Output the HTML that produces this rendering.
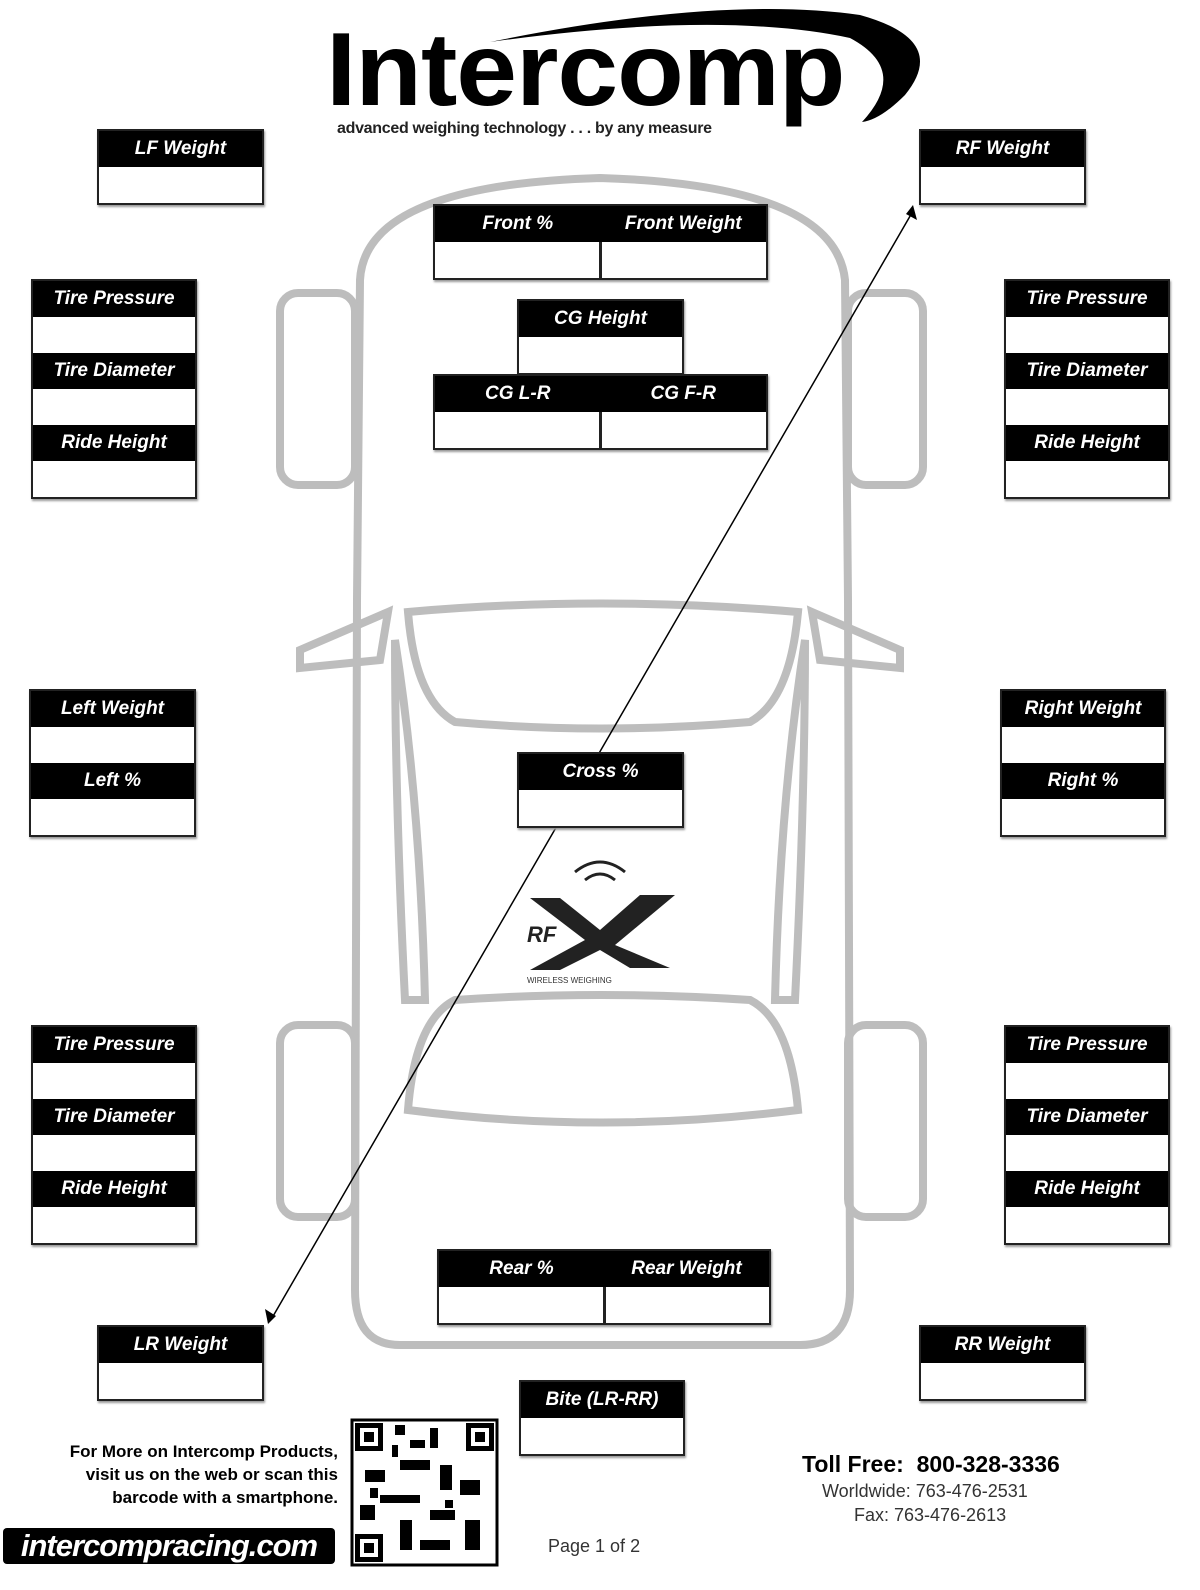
<!DOCTYPE html>
<html><head><meta charset="utf-8"><style>
body{margin:0;width:1200px;height:1590px;background:#fff;position:relative;overflow:hidden;font-family:"Liberation Sans",sans-serif}
.b{position:absolute;border:2px solid #222;box-sizing:border-box;background:#fff;box-shadow:1px 2px 2px #999}
.h{background:#000;color:#fff;font-weight:bold;font-style:italic;font-size:19px;text-align:center;height:36px;line-height:36px}
.w{height:36px}
.row{display:flex}.row>div{flex:1}
.row>div+div{border-left:3px solid #222}
.t{position:absolute;font-weight:bold}
</style></head><body>
<svg width="1200" height="1590" style="position:absolute;left:0;top:0">
<g fill="none" stroke="#bdbdbd" stroke-width="8">
<path d="M360 280 Q365 185 600 178 Q835 185 845 280 L848 600 L850 1290 Q850 1345 800 1345 L400 1345 Q355 1345 355 1290 L357 600 Z"/>
<rect x="280" y="293" width="75" height="192" rx="18"/>
<rect x="848" y="293" width="75" height="192" rx="18"/>
<rect x="280" y="1025" width="75" height="192" rx="18"/>
<rect x="848" y="1025" width="75" height="192" rx="18"/>
<path d="M408 612 Q600 595 798 612 Q790 700 750 722 Q600 735 455 722 Q415 700 408 612 Z"/>
<path d="M408 1110 Q600 1135 798 1110 Q790 1020 750 1000 Q600 990 455 1000 Q415 1020 408 1110 Z"/>
<path d="M395 640 Q420 800 425 1000 L405 1000 Q395 800 395 640 Z"/>
<path d="M805 640 Q780 800 775 1000 L795 1000 Q805 800 805 640 Z"/>
<path d="M388 612 L300 650 L300 668 L380 660 Z"/>
<path d="M812 612 L900 650 L900 668 L820 660 Z"/>
</g>
<path d="M490 42 Q720 -5 860 15 Q950 40 905 95 Q880 120 862 122 Q910 70 850 38 Q720 10 490 42 Z" fill="#000"/>
<line x1="272" y1="1318" x2="913" y2="211" stroke="#000" stroke-width="1.5"/>
<polygon points="913,205 917,220 906,214" fill="#000"/>
<polygon points="268,1324 265,1309 276,1316" fill="#000"/>
<g fill="#222"><path d="M585 880 q15-12 30 0" stroke="#222" stroke-width="3" fill="none"/><path d="M575 872 q25-20 50 0" stroke="#222" stroke-width="3" fill="none"/>
<path d="M530 898 L560 898 L600 930 L640 895 L675 895 L615 945 L670 968 L630 968 L600 950 L560 970 L530 970 L585 940 Z"/></g>
<text x="527" y="942" font-family="Liberation Sans" font-weight="bold" font-style="italic" font-size="22" fill="#222">RF</text>
<text x="527" y="983" font-family="Liberation Sans" font-size="8" fill="#333">WIRELESS WEIGHING</text>
<rect x="352" y="1420" width="145" height="145" fill="#fff" stroke="#000" stroke-width="3"/>
<g fill="#000"><rect x="355" y="1423" width="28" height="28"/><rect x="466" y="1423" width="28" height="28"/><rect x="355" y="1534" width="28" height="28"/>
<rect x="395" y="1425" width="10" height="10"/><rect x="410" y="1440" width="15" height="8"/><rect x="430" y="1428" width="8" height="20"/><rect x="400" y="1460" width="30" height="10"/><rect x="440" y="1465" width="12" height="25"/><rect x="365" y="1470" width="20" height="12"/><rect x="380" y="1495" width="40" height="8"/><rect x="460" y="1480" width="20" height="15"/><rect x="430" y="1510" width="25" height="10"/><rect x="400" y="1520" width="12" height="30"/><rect x="420" y="1540" width="30" height="10"/><rect x="465" y="1520" width="15" height="30"/><rect x="360" y="1505" width="15" height="15"/><rect x="392" y="1445" width="6" height="12"/><rect x="445" y="1500" width="8" height="8"/><rect x="370" y="1488" width="8" height="10"/></g>
<g fill="#fff"><rect x="360" y="1428" width="18" height="18"/><rect x="471" y="1428" width="18" height="18"/><rect x="360" y="1539" width="18" height="18"/></g>
<g fill="#000"><rect x="364" y="1432" width="10" height="10"/><rect x="475" y="1432" width="10" height="10"/><rect x="364" y="1543" width="10" height="10"/></g>
</svg>
<div class="t" style="left:326px;top:20px;font-size:104px;letter-spacing:-1px;line-height:100px;transform:scaleX(1.05);transform-origin:0 0">Intercomp</div>
<div class="t" style="left:337px;top:120px;font-size:16px;color:#222;letter-spacing:-0.3px">advanced weighing technology . . . by any measure</div>

<div class="b" style="left:97px;top:129px;width:167px"><div class="h">LF Weight</div><div class="w"></div></div>
<div class="b" style="left:919px;top:129px;width:167px"><div class="h">RF Weight</div><div class="w"></div></div>
<div class="b" style="left:97px;top:1325px;width:167px"><div class="h">LR Weight</div><div class="w"></div></div>
<div class="b" style="left:919px;top:1325px;width:167px"><div class="h">RR Weight</div><div class="w"></div></div>
<div class="b" style="left:519px;top:1380px;width:166px"><div class="h">Bite (LR-RR)</div><div class="w"></div></div>
<div class="b" style="left:517px;top:752px;width:167px"><div class="h">Cross %</div><div class="w"></div></div>
<div class="b" style="left:517px;top:299px;width:167px"><div class="h">CG Height</div><div class="w"></div></div>
<div class="b" style="left:433px;top:204px;width:335px"><div class="row"><div class="h">Front %</div><div class="h" style="border:0">Front Weight</div></div><div class="row w"><div></div><div></div></div></div>
<div class="b" style="left:433px;top:374px;width:335px"><div class="row"><div class="h">CG L-R</div><div class="h" style="border:0">CG F-R</div></div><div class="row w"><div></div><div></div></div></div>
<div class="b" style="left:437px;top:1249px;width:334px"><div class="row"><div class="h">Rear %</div><div class="h" style="border:0">Rear Weight</div></div><div class="row w"><div></div><div></div></div></div>

<div class="b" style="left:31px;top:279px;width:166px"><div class="h">Tire Pressure</div><div class="w"></div><div class="h">Tire Diameter</div><div class="w"></div><div class="h">Ride Height</div><div class="w"></div></div>
<div class="b" style="left:1004px;top:279px;width:166px"><div class="h">Tire Pressure</div><div class="w"></div><div class="h">Tire Diameter</div><div class="w"></div><div class="h">Ride Height</div><div class="w"></div></div>
<div class="b" style="left:31px;top:1025px;width:166px"><div class="h">Tire Pressure</div><div class="w"></div><div class="h">Tire Diameter</div><div class="w"></div><div class="h">Ride Height</div><div class="w"></div></div>
<div class="b" style="left:1004px;top:1025px;width:166px"><div class="h">Tire Pressure</div><div class="w"></div><div class="h">Tire Diameter</div><div class="w"></div><div class="h">Ride Height</div><div class="w"></div></div>
<div class="b" style="left:29px;top:689px;width:167px"><div class="h">Left Weight</div><div class="w"></div><div class="h">Left %</div><div class="w"></div></div>
<div class="b" style="left:1000px;top:689px;width:166px"><div class="h">Right Weight</div><div class="w"></div><div class="h">Right %</div><div class="w"></div></div>

<div class="t" style="left:20px;top:1440px;width:318px;text-align:right;font-size:17px;line-height:23px">For More on Intercomp Products,<br>visit us on the web or scan this<br>barcode with a smartphone.</div>
<div class="t" style="left:3px;top:1528px;width:332px;height:36px;background:#000;color:#fff;border-radius:4px;font-size:31px;font-style:italic;text-align:center;line-height:36px;letter-spacing:-1px">intercompracing.com</div>
<div style="position:absolute;left:548px;top:1536px;font-size:18px;color:#333">Page 1 of 2</div>
<div class="t" style="left:802px;top:1451px;font-size:23px">Toll Free:&nbsp; 800-328-3336</div>
<div style="position:absolute;left:822px;top:1481px;font-size:18px;color:#333">Worldwide: 763-476-2531</div>
<div style="position:absolute;left:854px;top:1505px;font-size:18px;color:#333">Fax: 763-476-2613</div>
</body></html>
